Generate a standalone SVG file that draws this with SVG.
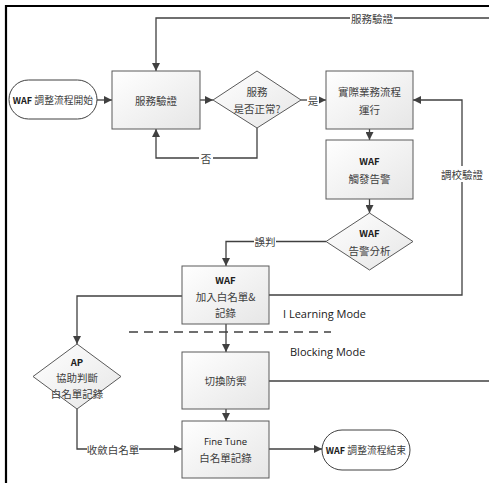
<svg xmlns="http://www.w3.org/2000/svg" width="489" height="483" viewBox="0 0 489 483">
<defs>
<linearGradient id="g" x1="0" y1="0" x2="1" y2="1">
<stop offset="0" stop-color="#ffffff"/>
<stop offset="1" stop-color="#e6e6e6"/>
</linearGradient>
<marker id="a" viewBox="0 0 10 10" refX="10" refY="5" markerWidth="8" markerHeight="8" markerUnits="userSpaceOnUse" orient="auto">
<path d="M0,0 L10,5 L0,10 z" fill="#404040"/>
</marker>
<style>
.n{fill:url(#g);stroke:#5a5a5a;stroke-width:1}
.t{fill:#fff;stroke:#404040;stroke-width:1}
.c{fill:none;stroke:#404040;stroke-width:1.3}
.ca{fill:none;stroke:#404040;stroke-width:1.3;marker-end:url(#a)}
text{font-family:"Noto Sans CJK TC","Liberation Sans",sans-serif;font-size:10.5px;fill:#404040;text-anchor:middle;dominant-baseline:central}
.b{font-weight:bold;fill:#202020;font-size:9.5px}
.lb{fill:#404040}
.s{font-size:9.8px}
.m{font-family:"Open Sans","Liberation Sans",sans-serif;font-size:11px;text-anchor:start;fill:#202020}
</style>
</defs>
<rect x="0" y="0" width="489" height="483" fill="#fff"/>
<g id="frame">
<line x1="5" y1="6" x2="489" y2="6" stroke="#000" stroke-width="2.2"/>
<line x1="6" y1="5" x2="6" y2="483" stroke="#000" stroke-width="2.2"/>
</g>
<g id="connectors">
<line class="ca" x1="97" y1="100" x2="112" y2="100"/>
<line class="ca" x1="200" y1="100" x2="213" y2="100"/>
<line class="ca" x1="301" y1="100" x2="326" y2="100"/>
<polyline class="ca" points="257,128 257,158 156,158 156,129"/>
<polyline class="ca" points="489,18 156,18 156,71"/>
<line class="ca" x1="369.5" y1="129" x2="369.5" y2="140"/>
<line class="ca" x1="369.5" y1="199" x2="369.5" y2="213"/>
<polyline class="ca" points="326,241.5 226,241.5 226,266"/>
<polyline class="ca" points="269,295 462,295 462,100 413,100"/>
<polyline class="ca" points="182,296 77,296 77,344"/>
<line class="ca" x1="226" y1="324" x2="226" y2="352"/>
<line class="c" x1="269" y1="381" x2="489" y2="381"/>
<line class="ca" x1="226" y1="409" x2="226" y2="421"/>
<polyline class="ca" points="77,409 77,449 182,449"/>
<line class="ca" x1="269" y1="449" x2="322" y2="449"/>
<line x1="129" y1="332" x2="331" y2="332" stroke="#404040" stroke-width="1.3" stroke-dasharray="9,6"/>
<rect x="199" y="151" width="14" height="14" fill="#fff"/>
<text x="206" y="158" class="lb">否</text>
<rect x="350" y="11" width="44" height="14" fill="#fff"/>
<text x="372" y="18" class="lb">服務驗證</text>
<rect x="307" y="93" width="12" height="14" fill="#fff"/>
<text x="313" y="100" class="lb">是</text>
<rect x="441" y="166" width="42" height="16" fill="#fff"/>
<text x="462" y="174" class="lb">調校驗證</text>
<rect x="254" y="234" width="22" height="14" fill="#fff"/>
<text x="265" y="241.5" class="lb">誤判</text>
<rect x="87" y="442" width="52" height="14" fill="#fff"/>
<text x="113" y="449" class="lb">收斂白名單</text>
</g>
<g id="start">
<rect class="t" x="9" y="80" width="88" height="39" rx="19.5"/>
<text x="53" y="100" class="s"><tspan class="b" style="font-size:9px">WAF</tspan> 調整流程開始</text>
</g>
<g id="verify">
<rect class="n" x="112" y="71" width="88" height="58"/>
<text x="156" y="100">服務驗證</text>
</g>
<g id="check">
<polygon class="n" points="257,71 301,100 257,128 213,100"/>
<text x="257" y="91">服務</text>
<text x="257" y="108">是否正常?</text>
</g>
<g id="run">
<rect class="n" x="326" y="71" width="87" height="58"/>
<text x="369.5" y="91">實際業務流程</text>
<text x="369.5" y="109">運行</text>
</g>
<g id="alert">
<rect class="n" x="326" y="140" width="87" height="59"/>
<text x="369.5" y="161" class="b">WAF</text>
<text x="369.5" y="178">觸發告警</text>
</g>
<g id="analyze">
<polygon class="n" points="369.5,213 413,241.5 369.5,270 326,241.5"/>
<text x="369.5" y="233" class="b">WAF</text>
<text x="369.5" y="250">告警分析</text>
</g>
<g id="whitelist">
<rect class="n" x="182" y="266" width="87" height="58"/>
<text x="225.5" y="280" class="b">WAF</text>
<text x="225.5" y="296">加入白名單&amp;</text>
<text x="225.5" y="312">記錄</text>
</g>
<g id="ap">
<polygon class="n" points="77,344 121,376.5 77,409 33,376.5"/>
<text x="77" y="362" class="b">AP</text>
<text x="77" y="377">協助判斷</text>
<text x="77" y="393">白名單記錄</text>
</g>
<g id="switch">
<rect class="n" x="182" y="352" width="87" height="57"/>
<text x="225.5" y="380">切換防禦</text>
</g>
<g id="finetune">
<rect class="n" x="182" y="421" width="87" height="57"/>
<text x="225.5" y="441" style="font-size:9.5px;fill:#202020;font-family:'Open Sans','Liberation Sans',sans-serif">Fine Tune</text>
<text x="225.5" y="457">白名單記錄</text>
</g>
<g id="end">
<rect class="t" x="322" y="430" width="88" height="40" rx="20"/>
<text x="366" y="450" class="s"><tspan class="b" style="font-size:9px">WAF</tspan> 調整流程結束</text>
</g>
<g id="modes">
<text x="283" y="313" class="m">I Learning Mode</text>
<text x="290" y="351" class="m">Blocking Mode</text>
</g>
</svg>
